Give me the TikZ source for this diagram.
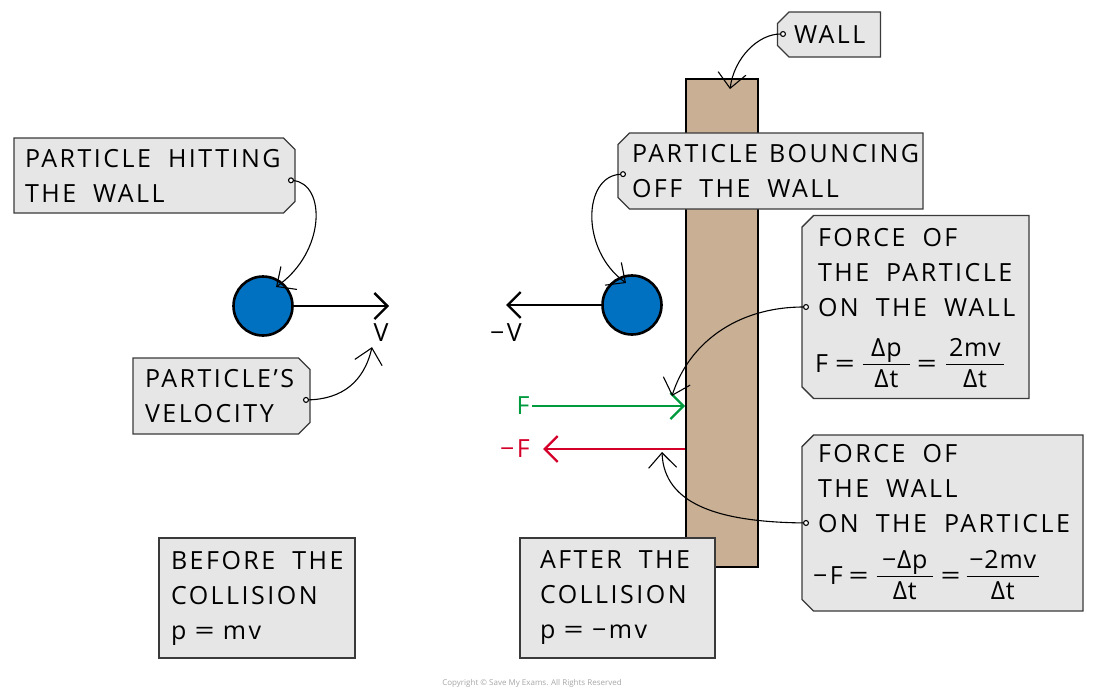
\documentclass[tikz,border=0pt]{standalone}
\usepackage{fontspec}
\usepackage{graphicx}
\setmainfont[LetterSpace=10]{Open Sans}
\newfontfamily\cfont{Open Sans}
\usetikzlibrary{shapes.misc,arrows.meta,calc}
\definecolor{boxfill}{HTML}{E6E6E6}
\definecolor{boxline}{HTML}{3A3A3A}
\definecolor{ballblue}{HTML}{0070C0}
\definecolor{walltan}{HTML}{C9AF94}
\definecolor{fgreen}{HTML}{009A3E}
\definecolor{fred}{HTML}{D4002A}
\newcommand\labfont{\fontsize{25}{35}\selectfont}
\newcommand\W{\nobreak\hspace{17pt}\nobreak}
\newcommand\EQ{\scalebox{1.4}[1]{=}}
\newcommand\myfr[3]{{\addfontfeatures{LetterSpace=3}\setlength\arrayrulewidth{1.2pt}\renewcommand\arraystretch{0.72}\begin{tabular}{@{}c@{}}\makebox[#1]{#2}\\\hline\rule{0pt}{22pt}\makebox[#1]{#3}\end{tabular}}}
\begin{document}
\begin{tikzpicture}[x=1pt,y=1pt,
  tagR/.style={chamfered rectangle, chamfered rectangle corners={north east,south east},
    chamfered rectangle xsep=8pt, draw=boxline, fill=boxfill, line width=1.3pt,
    inner sep=0pt, align=left, font=\labfont,
    execute at begin node={\hyphenpenalty=10000\exhyphenpenalty=10000}},
  tagL/.style={tagR, chamfered rectangle corners={north west,south west}},
  plainbox/.style={rectangle, draw=boxline, fill=boxfill, line width=1.3pt,
    inner sep=0pt, align=left, font=\labfont},
  ball/.style={circle, draw=black, fill=ballblue, line width=2.6pt, minimum size=59pt, inner sep=0pt},
  vel/.style={line width=2.3pt, -{Straight Barb[length=13pt,width=26pt,line width=2.3pt]}},
  conn/.style={line width=1.1pt, {Circle[fill=white,length=6pt,width=6pt]}-{Straight Barb[length=15pt,width=28pt]}},
  lab/.style={font=\labfont, inner sep=0pt}
]
\useasboundingbox (0,0) rectangle (1100,-699);

% wall
\node[rectangle, draw=black, fill=walltan, line width=1.8pt, minimum width=72pt, minimum height=488pt, inner sep=0pt] (wall) at (722,-323) {};

% left side
\node[tagR, minimum width=281pt, minimum height=75pt, text width=259pt] (hit) at (154.5,-175.5)
  {PARTICLE\W HITTING\\THE\W WALL};
\node[ball] (b1) at (263,-306) {};
\coordinate (v1) at (389,-306);
\draw[vel] (b1.east) -- (v1);
\node[lab] (vlab) at (381,-333) {V};
\node[tagR, minimum width=177pt, minimum height=76pt, text width=153pt] (pv) at (221.5,-396)
  {PARTICLE'S\\VELOCITY};

\coordinate (d1) at (288,-180);
\draw[conn] (d1) .. controls (326,-184) and (326,-252) .. ($(b1.center)+(13,19)$);
\coordinate (d2) at (303,-400);
\draw[conn] (d2) .. controls (342,-399) and (364,-382) .. ($(vlab.south)+(-9,-5)$);

\node[plainbox, minimum width=196pt, minimum height=120pt, text width=172pt] (before) at (257,-598)
  {BEFORE\W THE\\COLLISION\\p~\EQ~mv};

% right side
\node[tagL, minimum width=103pt, minimum height=45pt, text width=70pt] (walltag) at (829,-34.5)
  {WALL};
\coordinate (d3) at (786,-34);
\draw[conn] (d3) .. controls (758,-34) and (734,-58) .. ($(wall.north)+(8,-11)$);

\node[tagL, minimum width=305pt, minimum height=76pt, text width=277pt] (bounce) at (770.5,-171)
  {PARTICLE\nobreak\hspace{11pt}\nobreak BOUNCING\\OFF\W THE\W WALL};

\node[ball] (b2) at (632,-305) {};
\coordinate (v2) at (506,-305);
\draw[vel] (b2.west) -- (v2);
\node[lab] (mvlab) at (506,-333) {−V};

\coordinate (d4) at (626,-174);
\draw[conn] (d4) .. controls (583,-176) and (580,-250) .. ($(b2.center)+(-6,22)$);

\coordinate (fs) at (532,-406);
\draw[vel, draw=fgreen, -{Straight Barb[length=13pt,width=26pt,line width=2.3pt,color=fgreen]}] (fs) -- (fs -| wall.west);
\node[lab, text=fgreen] (flab) at (523,-406) {F};
\coordinate (rs) at (543,-449);
\draw[vel, draw=fred, -{Straight Barb[length=13pt,width=26pt,line width=2.3pt,color=fred]}] (rs -| wall.west) -- (rs);
\node[lab, text=fred] (rflab) at (515,-449) {−F};

\node[tagL, minimum width=227pt, minimum height=178pt, text width=195pt] (fpw) at (915.5,-307)
  {\rule{0pt}{27.75pt}FORCE\W OF\\THE\W PARTICLE\\ON\W THE\W WALL\\[21pt]\hspace*{-3pt}F\hspace{7pt}\EQ\hspace{8pt}\myfr{47pt}{Δp}{Δt}\hspace{7pt}\EQ\hspace{9pt}\myfr{58pt}{2mv}{Δt}};
\node[tagL, minimum width=281pt, minimum height=176pt, text width=249pt] (fwp) at (942.5,-523)
  {\rule{0pt}{23.75pt}FORCE\W OF\\THE\W WALL\\ON\W THE\W PARTICLE\\[17pt]\hspace*{-5pt}−F\hspace{6pt}\EQ\hspace{8pt}\myfr{56pt}{−Δp}{Δt}\hspace{8pt}\EQ\hspace{6pt}\myfr{72pt}{−2mv}{Δt}};

\coordinate (d5) at (809,-307);
\draw[conn] (d5) .. controls (735,-307) and (688,-345) .. (672,-396);
\coordinate (d6) at (809,-523);
\draw[conn] (d6) .. controls (720,-522) and (664,-505) .. (662,-452);

\node[plainbox, minimum width=195pt, minimum height=120pt, text width=155pt] (after) at (617.5,-598)
  {AFTER\W THE\\COLLISION\\p~\EQ~−mv};

\node[font=\cfont\fontsize{8}{10}\selectfont, text=gray!70, inner sep=0pt] (copy) at (532,-683)
  {Copyright © Save My Exams. All Rights Reserved};
\end{tikzpicture}
\end{document}
